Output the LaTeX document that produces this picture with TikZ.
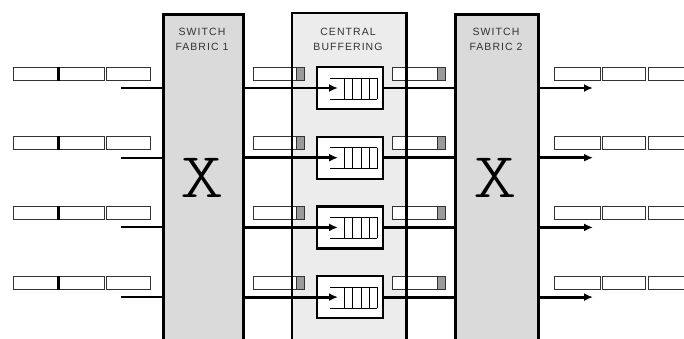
\documentclass[tikz,border=0pt]{standalone}
\usepackage{fontspec}
\setsansfont{Liberation Sans}
\newfontfamily\lblfont[LetterSpace=10]{Liberation Sans}
\newfontfamily\xfont{lmmonolt10-regular.otf}
\usetikzlibrary{arrows.meta}
\definecolor{fabricgray}{HTML}{DADADA}
\definecolor{buffgray}{HTML}{ECECEC}
\definecolor{capgray}{HTML}{9A9A9A}
\definecolor{lblgray}{HTML}{333333}
\begin{document}
\begin{tikzpicture}[x=1pt, y=-1pt, >={Latex[length=9pt,width=8pt]},
    fabric/.style={draw, line width=2.8pt, fill=fabricgray, anchor=north west, inner sep=0pt, minimum height=360pt},
    lbl/.style={align=center, text=lblgray, font=\lblfont\fontsize{10.5}{15}\selectfont},
    cell/.style={draw=black!80, line width=1pt, fill=white, inner sep=0pt, minimum height=13pt},
    capc/.style={draw=black!80, line width=1pt, fill=capgray, inner sep=0pt, minimum height=13pt, minimum width=8pt, anchor=east},
    qbox/.style={draw, line width=2.4pt, fill=white, inner sep=0pt, minimum width=66pt, minimum height=42pt},
    inl/.style={line width=2pt},
    link/.style={line width=2.8pt},
    xsym/.style={font=\xfont\fontsize{64}{64}\selectfont, inner sep=0pt}]
  \useasboundingbox (0,0) rectangle (684,338);
  \clip (0,0) rectangle (684,338);
  % the three stages
  \node[fabric, minimum width=80pt] (sf1) at (162,13) {};
  \node[fabric, fill=buffgray, draw=none, minimum width=112pt] (cb) at (292,13) {};
  \node[fabric, minimum width=83pt] (sf2) at (454,13) {};
  \node[lbl] (sf1l) at (202,39.5) {SWITCH\\FABRIC 1};
  \node[lbl] (cbl) at (348,39.5) {CENTRAL\\BUFFERING};
  \node[lbl] (sf2l) at (496,39.5) {SWITCH\\FABRIC 2};
  \node[xsym] (x1) at (202,178) {\scalebox{1.3}[1]{X}};
  \node[xsym] (x2) at (495,178) {\scalebox{1.3}[1]{X}};
  % one row per port
  \foreach \i in {1,...,4} {
    \pgfmathsetmacro{\y}{88+69.7*(\i-1)}
    % input queue and line
    \node[cell, minimum width=45pt] (ia\i) at (35.5,\y-14.5) {};
    \node[cell, minimum width=46pt] (ib\i) at (81,\y-14.5) {};
    \node[cell, minimum width=44pt] (ic\i) at (128,\y-14.5) {};
    \draw[line width=2.2pt] (ia\i.north east) -- (ia\i.south east);
    \coordinate (in\i) at (121,\y);
    \draw[inl] (in\i) -- (in\i -| sf1.west);
    % central buffer
    \node[cell, minimum width=51pt] (lb\i) at (278.5,\y-14.5) {};
    \node[capc] at (lb\i.east) {};
    \node[qbox] (qb\i) at (350,\y) {};
    \coordinate (qin\i) at (338,\y);
    \draw[->, link] (in\i -| sf1.east) -- (qin\i);
    \draw[line width=1pt] (330,\y-10) -- (377,\y-10) (330,\y+11) -- (377,\y+11);
    \foreach \qx in {344,352.5,361,369,377}
      \draw[line width=1pt] (\qx,\y-10) -- (\qx,\y+11);
    \node[cell, minimum width=53pt] (rb\i) at (418.5,\y-14.5) {};
    \node[capc] at (rb\i.east) {};
    \draw[link] (qb\i.east) -- (qb\i.east -| sf2.west);
    % output line and queue
    \coordinate (out\i) at (593,\y);
    \draw[->, link] (in\i -| sf2.east) -- (out\i);
    \node[cell, minimum width=46pt] (oa\i) at (577,\y-14.5) {};
    \node[cell, minimum width=43pt] (ob\i) at (623.5,\y-14.5) {};
    \node[cell, minimum width=48pt] (oc\i) at (672,\y-14.5) {};
  }
  \draw[line width=2.8pt] (cb.south west) -- (cb.north west) -- (cb.north east) -- (cb.south east);
\end{tikzpicture}
\end{document}
